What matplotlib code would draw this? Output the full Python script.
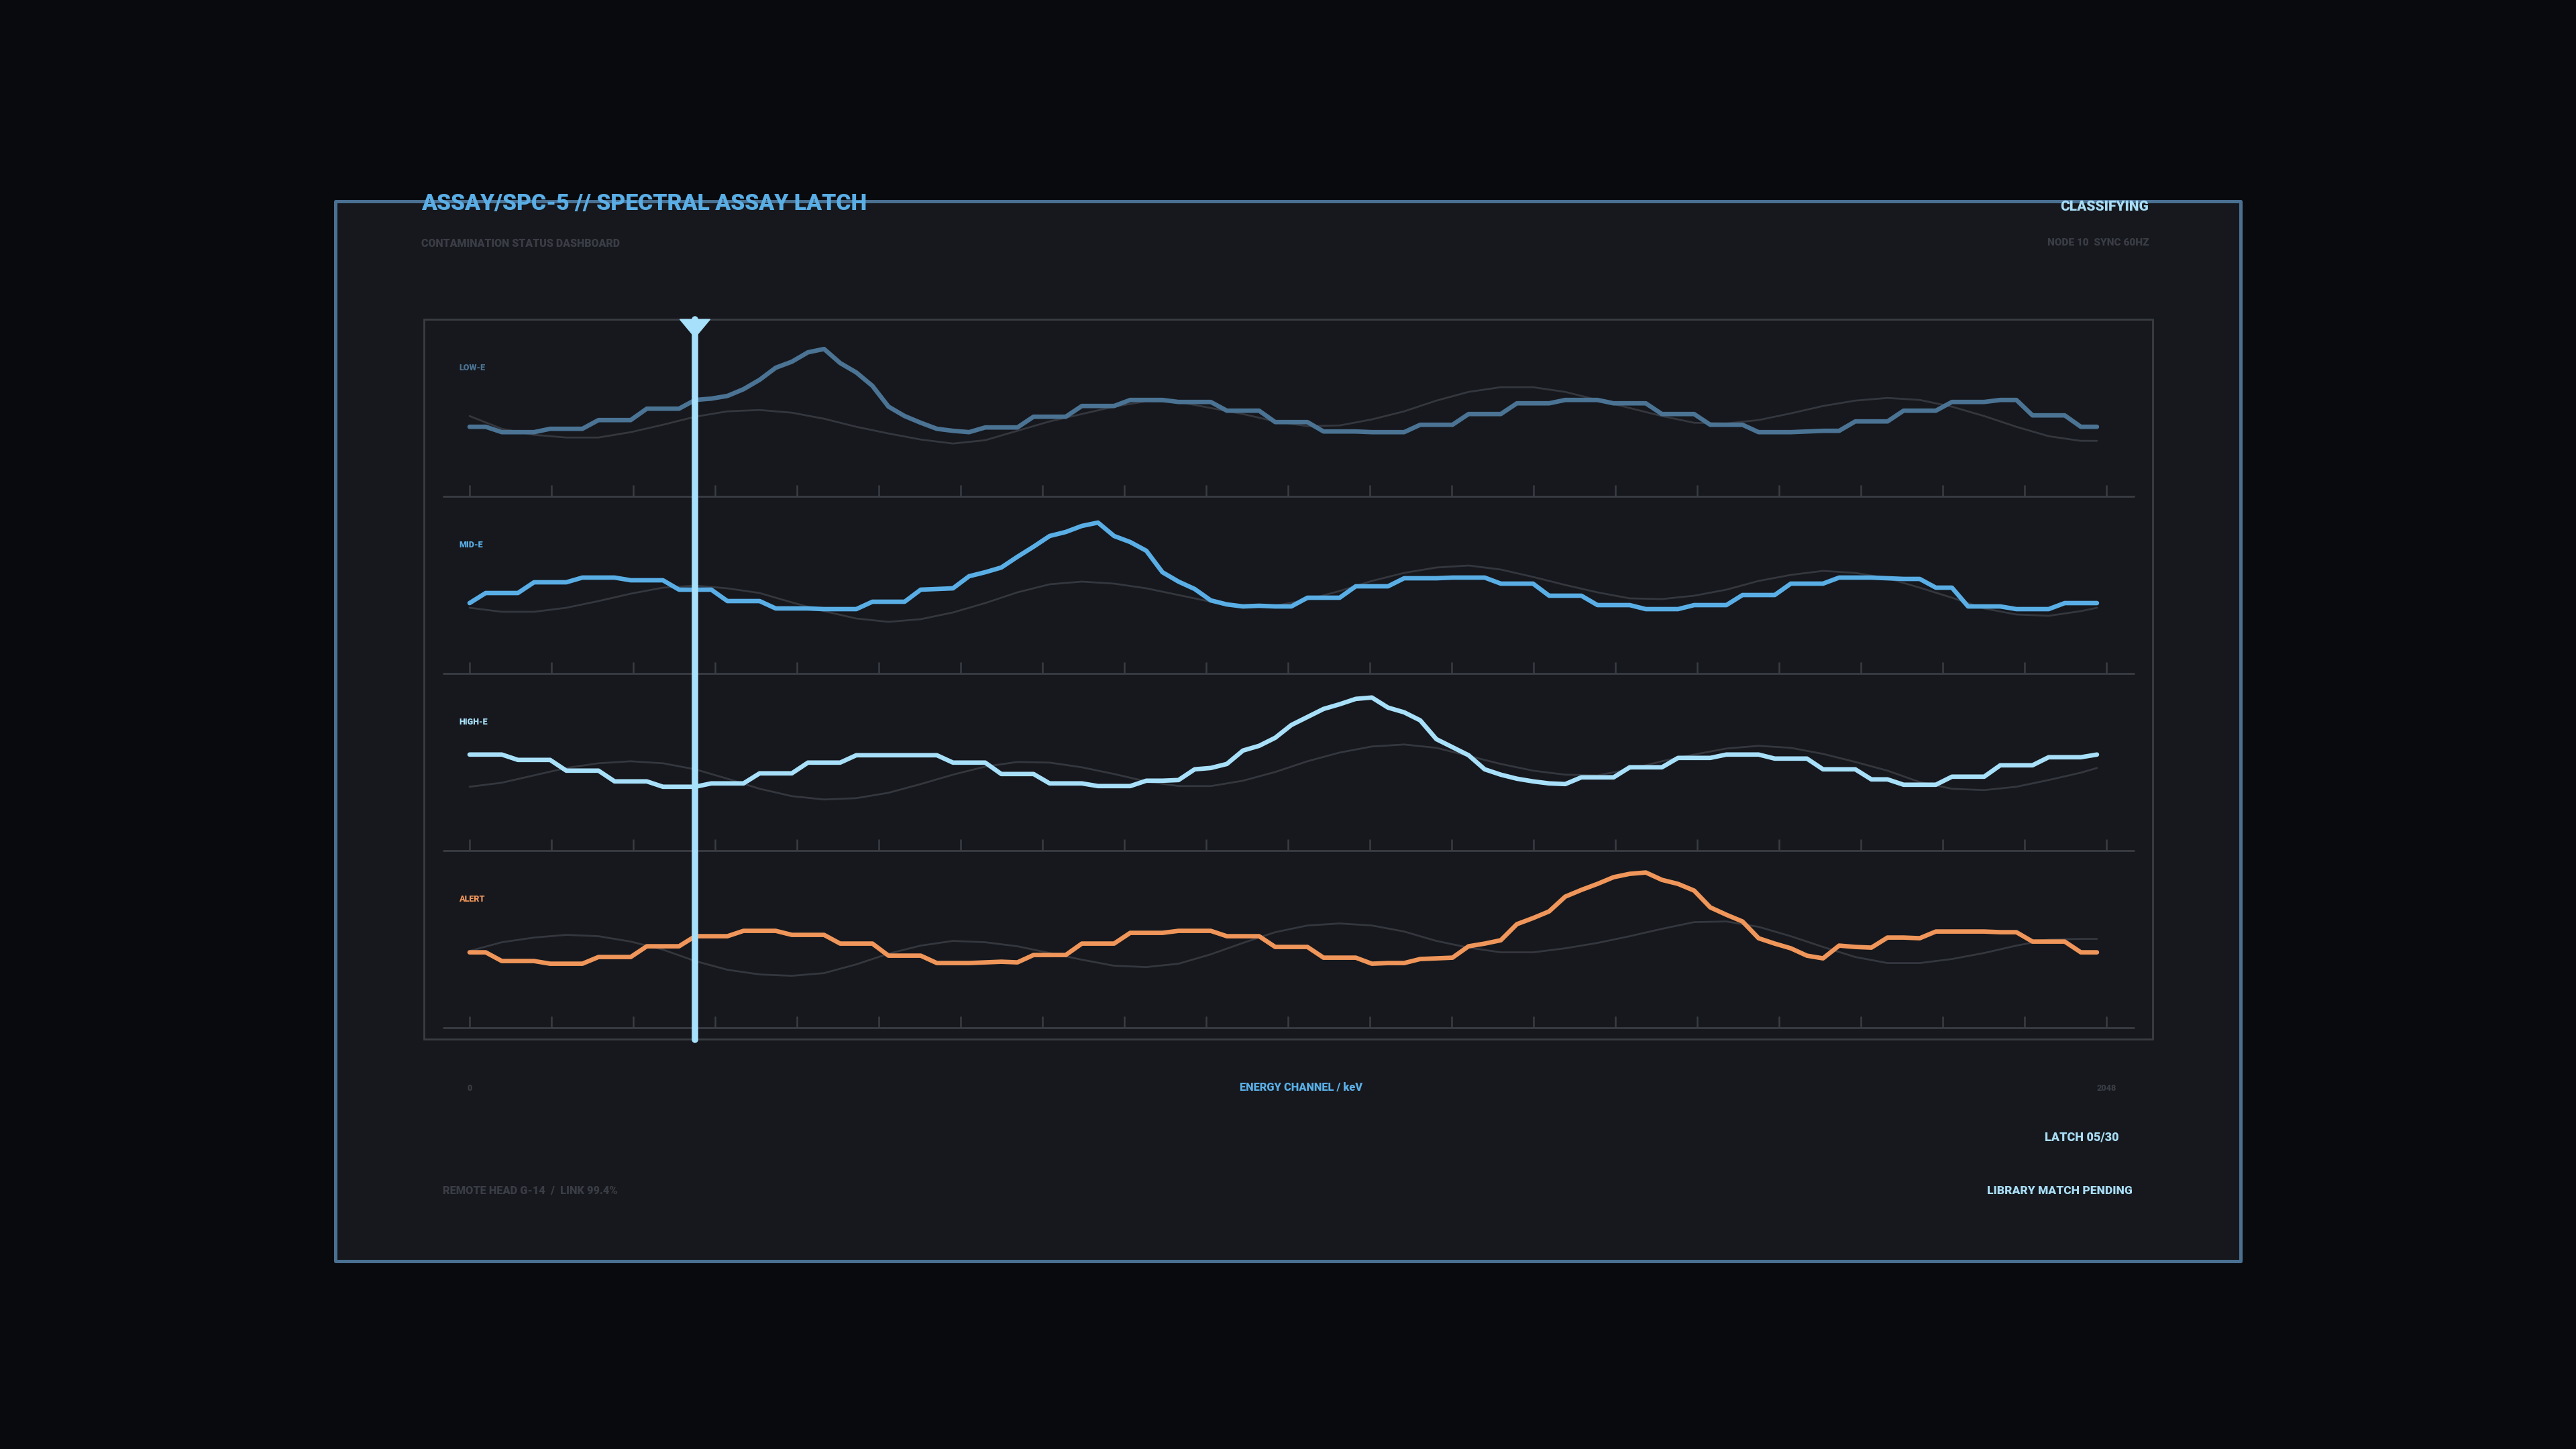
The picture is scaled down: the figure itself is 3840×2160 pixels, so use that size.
import numpy as np
import matplotlib
matplotlib.use("Agg")
import matplotlib.pyplot as plt
from matplotlib.patches import Rectangle, Polygon
from matplotlib.transforms import blended_transform_factory

plt.rcParams['font.family'] = ['Roboto', 'DejaVu Sans']

# ---------------- data ----------------
PANEL_NAMES = ["LOW-E", "MID-E", "HIGH-E", "ALERT"]
PANEL_COLORS = ["#4b7394", "#5aaee6", "#a8e0fa", "#f0965a"]

CHANNEL_MAX = 2048
CHANNEL_STEP = 20.16          # channel width of one sample
CURSOR_CHANNEL = 282
AXIS_LABELS = ["0", "2048"]
AXIS_TITLE = "ENERGY CHANNEL / keV"

LOW_E = [104,104,96,96,96,101,101,101,114,114,
         114,131,131,131,144,146,150,160,174,192,
         201,215,220,199,185,165,134,120,110,101,
         98,96,103,103,103,119,119,119,135,135,
         135,144,144,144,141,141,141,128,128,128,
         111,111,111,97,97,97,96,96,96,107,
         107,107,123,123,123,139,139,139,144,144,
         144,139,139,139,123,123,123,107,107,107,
         96,96,96,97,98,98,112,112,112,128,
         128,128,141,141,141,144,144,121,121,121,
         104,104]
MID_E = [105,120,120,120,136,136,136,143,143,143,
         139,139,139,125,125,125,108,108,108,97,
         97,97,96,96,96,107,107,107,125,126,
         127,145,151,158,174,189,205,211,220,225,
         205,196,183,151,137,126,109,103,100,101,
         100,100,113,113,113,130,130,130,142,142,
         142,143,143,143,134,134,134,116,116,116,
         102,102,102,96,96,96,102,102,102,117,
         117,117,134,134,134,143,143,143,142,141,
         141,128,128,100,100,100,96,96,96,105,
         105,105]
HIGH_E = [143,143,143,135,135,135,119,119,119,103,
          103,103,95,95,95,100,100,100,115,115,
          115,131,131,131,142,142,142,142,142,142,
          131,131,131,114,114,114,100,100,100,96,
          96,96,104,104,105,121,123,129,149,156,
          168,187,199,211,218,226,228,213,206,194,
          166,154,142,121,113,107,103,100,99,109,
          109,109,124,124,124,138,138,138,143,143,
          143,137,137,137,121,121,121,106,106,98,
          98,98,110,110,110,127,127,127,139,139,
          139,143]
ALERT = [112,112,99,99,99,95,95,95,105,105,
         105,121,121,121,136,136,136,144,144,144,
         138,138,138,125,125,125,107,107,107,96,
         96,96,97,98,97,108,108,108,125,125,
         125,141,141,141,144,144,144,136,136,136,
         120,120,120,104,104,104,95,96,96,102,
         103,104,121,125,130,154,163,173,195,205,
         214,224,229,231,220,214,204,179,168,158,
         133,125,118,107,103,122,120,119,134,134,
         133,143,143,143,143,142,142,128,128,128,
         112,112]

# reference (library) curves, sampled at every second sample index
REF_INDEX = list(range(0, 101, 2)) + [101]
LOW_REF = [120,101,92,88,88,96,107,119,127,129,
           125,116,104,94,85,79,84,98,112,123,
           134,142,141,132,123,112,105,106,115,127,
           143,156,163,163,156,144,132,120,110,109,
           114,124,135,143,147,144,134,120,104,90,
           83,83]
MID_REF = [98,92,92,98,108,119,128,131,127,120,
           106,93,82,77,81,91,105,121,133,137,
           134,127,117,107,101,101,110,123,138,150,
           158,161,155,144,132,121,112,111,116,125,
           138,147,153,150,142,128,113,97,88,86,
           93,98]
HIGH_REF = [95,101,112,123,130,133,130,121,107,92,
            81,76,78,86,99,113,125,132,131,124,
            114,103,96,96,104,117,133,146,155,158,
            153,141,129,119,113,112,121,133,143,152,
            156,153,144,132,119,102,92,90,95,105,
            116,123]
ALERT_REF = [114,127,134,138,136,128,116,99,86,79,
             77,81,94,110,122,129,127,121,111,101,
             92,90,95,109,126,142,152,155,152,143,
             129,119,112,112,118,126,136,147,157,158,
             150,136,120,105,96,96,102,111,122,131,
             132,132]

SERIES = [LOW_E, MID_E, HIGH_E, ALERT]
REFS = [LOW_REF, MID_REF, HIGH_REF, ALERT_REF]

# ---------------- layout / style ----------------
W, H, DPI = 3840, 2160, 100
BG = "#080a0e"
PANEL_BG = "#16181d"
FRAME = "#4a7092"
GRID = "#393c43"
REF_C = "#34373e"
DIM_TXT = "#3a3d45"
CYAN = "#a8dcf5"
BLUE = "#5aaee6"
WT = 'black'

PX_X0, PX_X1 = 661, 3181        # baseline extent
PX_CH0, PX_CH1 = 700, 3140      # channel 0 / channel 2048
K = CHANNEL_MAX / (PX_CH1 - PX_CH0)
XLIM = ((PX_X0 - PX_CH0) * K, (PX_X1 - PX_CH0) * K)
BASE0, PANEL_H = 740.2, 263.8


def fx(px):
    return px / W


def fy(py):
    return 1 - py / H


fig = plt.figure(figsize=(W / DPI, H / DPI), dpi=DPI, facecolor=BG)

ov = fig.add_axes([0, 0, 1, 1])
ov.set_xlim(0, W)
ov.set_ylim(H, 0)
ov.axis('off')
ov.set_zorder(0)

ov.add_patch(Rectangle((500, 300), 2840, 1580, facecolor=PANEL_BG,
                       edgecolor=FRAME, lw=3.6, joinstyle='round', zorder=1))
ov.add_patch(Rectangle((632, 476), 2577, 1073, facecolor='none',
                       edgecolor=GRID, lw=2.0, zorder=2))

ov.text(628, 313, "ASSAY/SPC-5 // SPECTRAL ASSAY LATCH", color=BLUE,
        fontsize=24.3, fontweight=WT, ha='left', va='baseline', zorder=5)
ov.text(628, 368.3, "CONTAMINATION STATUS DASHBOARD", color=DIM_TXT,
        fontsize=11.5, fontweight=WT, ha='left', va='baseline', zorder=5)
ov.text(3203, 314, "CLASSIFYING", color=CYAN,
        fontsize=15.0, fontweight=WT, ha='right', va='baseline', zorder=5)
ov.text(3203, 366, "NODE 10  SYNC 60HZ", color=DIM_TXT,
        fontsize=11.1, fontweight=WT, ha='right', va='baseline', zorder=5)
ov.text(3159, 1700, "LATCH 05/30", color=CYAN,
        fontsize=13.0, fontweight=WT, ha='right', va='baseline', zorder=5)
ov.text(3179, 1780, "LIBRARY MATCH PENDING", color=CYAN,
        fontsize=12.5, fontweight=WT, ha='right', va='baseline', zorder=5)
ov.text(660, 1780, "REMOTE HEAD G-14  /  LINK 99.4%", color=DIM_TXT,
        fontsize=11.8, fontweight=WT, ha='left', va='baseline', zorder=5)

tick_channels = np.linspace(0, CHANNEL_MAX, 21)

axes = []
for k, (name, col, vals, ref) in enumerate(zip(PANEL_NAMES, PANEL_COLORS, SERIES, REFS)):
    base = BASE0 + k * PANEL_H
    ax = fig.add_axes([fx(PX_X0), fy(base), (PX_X1 - PX_X0) / W, PANEL_H / H])
    ax.set_xlim(*XLIM)
    ax.set_ylim(0, PANEL_H)
    ax.axis('off')
    ax.patch.set_alpha(0)
    ax.set_zorder(2 + k)

    ax.axhline(0, color=GRID, lw=2.0, solid_capstyle='round', clip_on=False, zorder=1)
    ax.vlines(tick_channels, 0, 17, color=GRID, lw=1.8, clip_on=False, zorder=1)

    x = np.arange(len(vals)) * CHANNEL_STEP
    xr = np.array(REF_INDEX[:len(ref)]) * CHANNEL_STEP
    ax.plot(xr, ref, color=REF_C, lw=2.0, solid_capstyle='round',
            clip_on=False, zorder=2)
    ax.plot(x, vals, color=col, lw=4.8, solid_joinstyle='round',
            solid_capstyle='round', clip_on=False, zorder=3)
    ax.text(-13.4, 188, name, color=col, fontsize=9.1, fontweight=WT,
            ha='left', va='baseline')
    axes.append(ax)

axb = axes[-1]
axb.text(0, -94.4, AXIS_LABELS[0], color=DIM_TXT, fontsize=9.1,
         fontweight=WT, ha='center', va='baseline')
axb.text(CHANNEL_MAX, -94.4, AXIS_LABELS[1], color=DIM_TXT, fontsize=9.1,
         fontweight=WT, ha='center', va='baseline')
axb.text(1040, -94.4, AXIS_TITLE, color=BLUE, fontsize=11.8,
         fontweight=WT, ha='center', va='baseline')

# latch cursor
axc = fig.add_axes([fx(PX_X0), fy(1550), (PX_X1 - PX_X0) / W, (1550 - 476) / H])
axc.set_xlim(*XLIM)
axc.set_ylim(0, 1)
axc.axis('off')
axc.patch.set_alpha(0)
axc.set_zorder(10)
axc.axvline(CURSOR_CHANNEL, 0, 1, color="#a6e0fb", lw=6.9,
            solid_capstyle='round', clip_on=False)
tr = blended_transform_factory(axc.transData, axc.transAxes)
half = 22.5 * K
tip = 1 - 27 / (1550 - 476)
axc.add_patch(Polygon([(CURSOR_CHANNEL - half, 1.0), (CURSOR_CHANNEL + half, 1.0),
                       (CURSOR_CHANNEL, tip)], closed=True, transform=tr,
                      facecolor="#a6e0fb", edgecolor="#a6e0fb", lw=1,
                      clip_on=False))

fig.savefig("out.png", dpi=DPI, facecolor=BG)
